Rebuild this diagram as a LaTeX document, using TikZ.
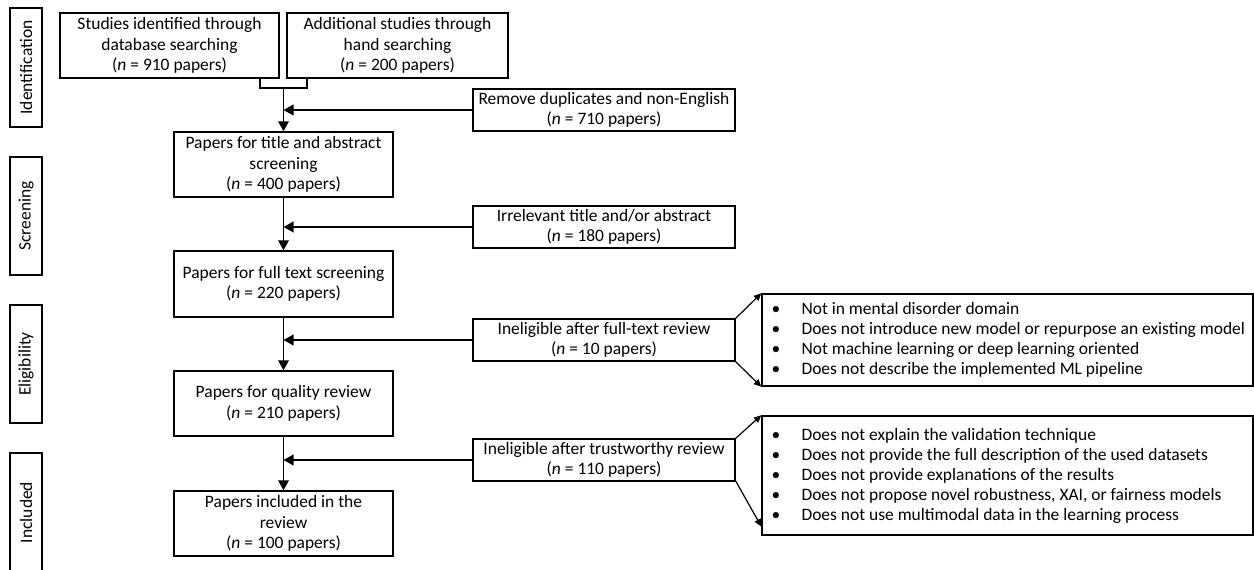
\documentclass[tikz,border=0pt]{standalone}
\usepackage{fontspec}
\setmainfont{Carlito}
\usetikzlibrary{arrows.meta,calc}
\newcommand{\bul}{\makebox[22.5pt][l]{\textbullet}}
\begin{document}
\begin{tikzpicture}[x=0.75pt,y=-0.75pt,
  box/.style={draw, line width=1.1pt, fill=white, align=center, inner sep=0pt,
    font=\fontsize{13.1}{15.4}\selectfont},
  sidebox/.style={draw, line width=1.1pt, fill=white, inner sep=0pt, rotate=90,
    minimum height=24pt, font=\fontsize{13.1}{15}\selectfont},
  listtext/.style={align=left, inner sep=0pt, font=\fontsize{13.1}{15}\selectfont},
  ln/.style={line width=1.1pt},
  arr/.style={line width=1.1pt, -{Triangle[length=7.5pt,width=8pt]}},
  sarr/.style={line width=0.9pt, -{Triangle[length=5.5pt,width=5pt]}}]
\useasboundingbox[fill=white] (0,0) rectangle (1254,569);

% side labels
\node[sidebox, minimum width=89.25pt] (S1) at (26,67.5) {Identification};
\node[sidebox, minimum width=88.5pt] (S2) at (26,216) {Screening};
\node[sidebox, minimum width=88.5pt] (S3) at (26,364) {Eligibility};
\node[sidebox, minimum width=89.25pt] (S4) at (26,512.5) {Included};

% main column
\node[box, minimum width=164.25pt, minimum height=48.75pt] (A) at (169.5,45.5)
  {Studies identified through\\database searching\\(\textit{n} = 910 papers)};
\node[box, minimum width=165.75pt, minimum height=48.75pt] (B) at (397.5,45.5)
  {Additional studies through\\hand searching\\(\textit{n} = 200 papers)};
\node[box, minimum width=164.25pt, minimum height=48.75pt] (C) at (283.5,164.5)
  {Papers for title and abstract\\screening\\(\textit{n} = 400 papers)};
\node[box, minimum width=164.25pt, minimum height=49.5pt] (D) at (283.5,284)
  {Papers for full text screening\\(\textit{n} = 220 papers)};
\node[box, minimum width=164.25pt, minimum height=48.75pt] (E) at (283.5,403.5)
  {Papers for quality review\\(\textit{n} = 210 papers)};
\node[box, minimum width=164.25pt, minimum height=48.75pt] (F) at (283.5,523.5)
  {Papers included in the\\review\\(\textit{n} = 100 papers)};

% exclusion boxes
\node[box, minimum width=196.5pt, minimum height=31.5pt] (R1) at (604,110)
  {Remove duplicates and non-English\\(\textit{n} = 710 papers)};
\node[box, minimum width=196.5pt, minimum height=31.5pt] (R2) at (604,227)
  {Irrelevant title and/or abstract\\(\textit{n} = 180 papers)};
\node[box, minimum width=196.5pt, minimum height=31.5pt] (R3) at (604,340)
  {Ineligible after full-text review\\(\textit{n} = 10 papers)};
\node[box, minimum width=196.5pt, minimum height=31.5pt] (R4) at (604,460)
  {Ineligible after trustworthy review\\(\textit{n} = 110 papers)};

% list boxes
\node[draw, line width=1.1pt, minimum width=368.25pt, minimum height=69pt, inner sep=0pt] (L1) at (1007.5,340) {};
\node[draw, line width=1.1pt, minimum width=368.25pt, minimum height=89.25pt, inner sep=0pt] (L2) at (1007.5,475.5) {};
\node[listtext, anchor=west] (T1) at ([xshift=7.5pt]L1.west)
  {\bul Not in mental disorder domain\\
   \bul Does not introduce new model or repurpose an existing model\\
   \bul Not machine learning or deep learning oriented\\
   \bul Does not describe the implemented ML pipeline};
\node[listtext, anchor=west] (T2) at ([xshift=7.5pt]L2.west)
  {\bul Does not explain the validation technique\\
   \bul Does not provide the full description of the used datasets\\
   \bul Does not provide explanations of the results\\
   \bul Does not propose novel robustness, XAI, or fairness models\\
   \bul Does not use multimodal data in the learning process};

% bracket joining A and B
\coordinate (jl) at (260,88);
\coordinate (jr) at (307,88);
\coordinate (jm) at (283.5,88);
\draw[ln] (A.south -| jl) -- (jl) -- (jr) -- (B.south -| jr);
\draw[arr] (jm) -- (C.north);
\draw[arr] (R1.west) -- (R1.west -| C.north);

\draw[arr] (C.south) -- (D.north);
\draw[arr] (R2.west) -- (R2.west -| C.south);

\draw[arr] (D.south) -- (E.north);
\draw[arr] (R3.west) -- (R3.west -| D.south);

\draw[arr] (E.south) -- (F.north);
\draw[arr] (R4.west) -- (R4.west -| E.south);

% fans to lists
\draw[sarr] (R3.north east) -- (L1.north west);
\draw[sarr] (R3.south east) -- (L1.south west);
\draw[sarr] (R4.north east) -- (L2.north west);
\draw[sarr] ([yshift=0.5pt]R4.south east) -- ([yshift=7pt]L2.south west);
\end{tikzpicture}
\end{document}
